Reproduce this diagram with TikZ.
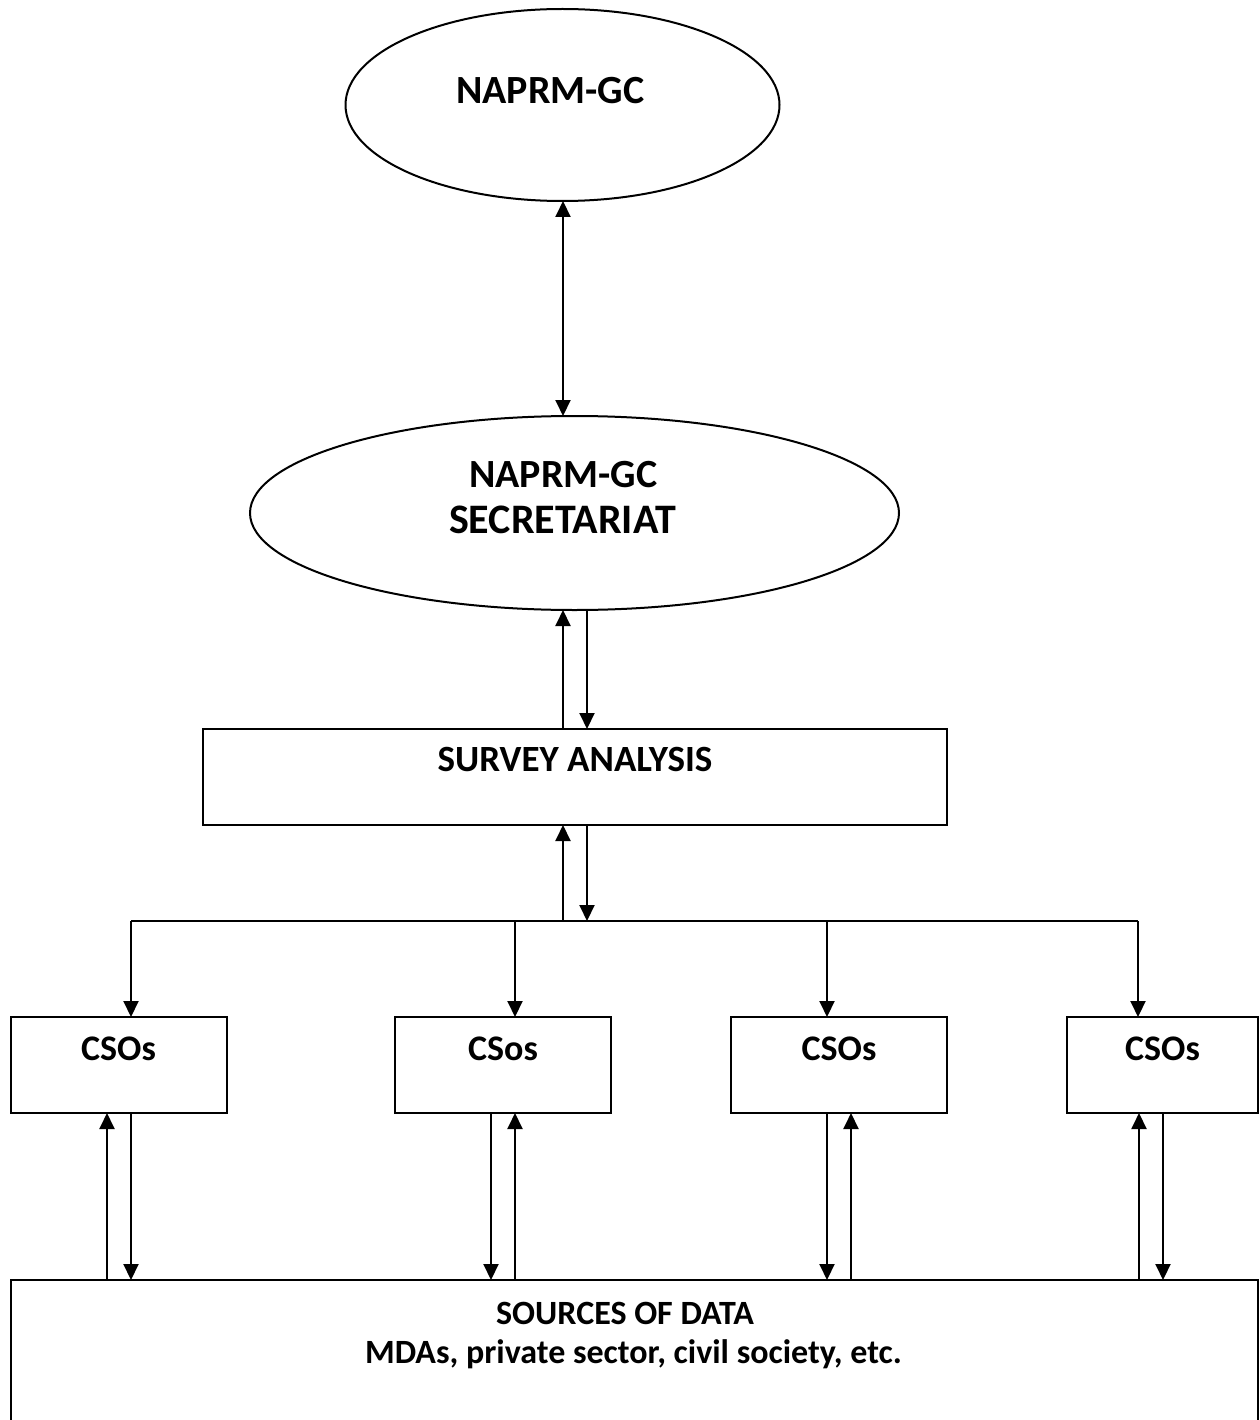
\documentclass[tikz,border=0pt]{standalone}
\usepackage{fontspec}
\setmainfont{Carlito}
\usetikzlibrary{arrows.meta,shapes.geometric}
\begin{document}
\begin{tikzpicture}[x=1pt,y=-1pt,line width=2pt,
  shp/.style={draw=black,line width=2pt,inner sep=0pt,outer sep=0pt},
  oval/.style={shp,ellipse},
  boxx/.style={shp,rectangle,anchor=north west},
  lbl/.style={font=\fontsize{#1}{#1}\selectfont\bfseries,anchor=base,inner sep=0pt},
  lbl/.default=36,
  arr/.style={-{Triangle[width=15pt,length=16pt]}},
  darr/.style={{Triangle[width=15pt,length=16pt]}-{Triangle[width=15pt,length=16pt]}}
]
\clip (0,0) rectangle (1259,1420);
\fill[white] (0,0) rectangle (1259,1420);

% shapes
\node[oval,minimum width=434pt,minimum height=192pt] (e1) at (562.5,105) {};
\node[oval,minimum width=649pt,minimum height=194pt] (e2) at (574.5,513) {};
\node[boxx,minimum width=744pt,minimum height=96pt] (sa) at (203,729) {};
\node[boxx,minimum width=216pt,minimum height=96pt] (c1) at (11,1017) {};
\node[boxx,minimum width=216pt,minimum height=96pt] (c2) at (395,1017) {};
\node[boxx,minimum width=216pt,minimum height=96pt] (c3) at (731,1017) {};
\node[boxx,minimum width=191pt,minimum height=96pt] (c4) at (1067,1017) {};
\node[boxx,minimum width=1247pt,minimum height=200pt] (src) at (11,1280) {};

% labels
\node[lbl=40] (t1) at (550.5,104) {NAPRM-GC};
\node[lbl=40] (t2) at (563.5,487) {NAPRM-GC};
\node[lbl=42] (t3) at (562.5,533) {SECRETARIAT};
\node[lbl=37] (t4) at (575,771) {SURVEY ANALYSIS};
\node[lbl] (t5) at (118.5,1060) {CSOs};
\node[lbl] (t6) at (503,1060) {CSos};
\node[lbl] (t7) at (839,1060) {CSOs};
\node[lbl] (t8) at (1162.5,1060) {CSOs};
\node[lbl=34] (t9) at (625,1324) {SOURCES OF DATA};
\node[lbl=34] (t10) at (633.5,1363) {MDAs, private sector, civil society, etc.};

% x positions
\coordinate (xa) at (563,0);
\coordinate (xb) at (587,0);
\coordinate (bus) at (0,921);

% connectors
\draw[darr] (e1.south -| xa) -- (e2.north -| xa);
\draw[arr] (sa.north -| xa) -- (e2.south -| xa);
\draw[arr] (e2.south -| xb) -- (sa.north -| xb);
\draw[arr] (bus -| xa) -- (sa.south -| xa);
\draw[arr] (sa.south -| xb) -- (bus -| xb);

\coordinate (k1) at (131,0);
\coordinate (k2) at (515,0);
\coordinate (k3) at (827,0);
\coordinate (k4) at (1138,0);
\draw (bus -| k1) -- (bus -| k4);
\foreach \k/\c in {k1/c1,k2/c2,k3/c3,k4/c4}
  \draw[arr] (bus -| \k) -- (\c.north -| \k);

% CSO <-> sources
\coordinate (u1) at (107,0); \coordinate (d1) at (131,0);
\coordinate (d2) at (491,0); \coordinate (u2) at (515,0);
\coordinate (d3) at (827,0); \coordinate (u3) at (851,0);
\coordinate (u4) at (1139,0); \coordinate (d4) at (1163,0);
\foreach \i in {1,2,3,4}{
  \draw[arr] (src.north -| u\i) -- (c\i.south -| u\i);
  \draw[arr] (c\i.south -| d\i) -- (src.north -| d\i);
}
\end{tikzpicture}
\end{document}
